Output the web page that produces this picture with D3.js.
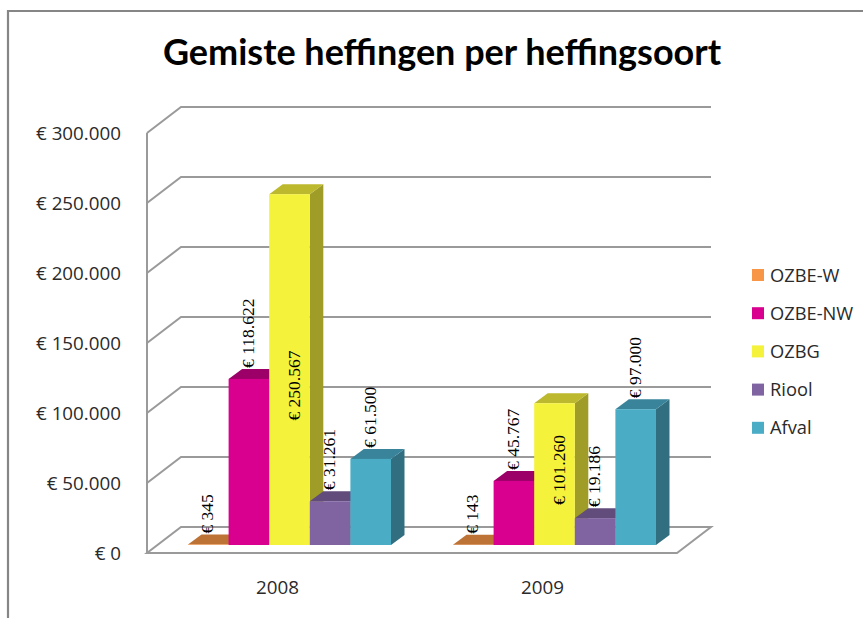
<!DOCTYPE html>
<html>
<head>
<meta charset="utf-8">
<script src="https://cdn.jsdelivr.net/npm/d3@7"></script>
<style>
  html, body { margin: 0; padding: 0; background: #fff; }
  svg { display: block; }
  text { font-family: "Open Sans", sans-serif; fill: #2a2a2a; }
</style>
</head>
<body>
<div id="chart"></div>
<script>
var width = 863,
    height = 618;

var years = ["2008", "2009"];
var seriesNames = ["OZBE-W", "OZBE-NW", "OZBG", "Riool", "Afval"];
var values2008 = [345, 118622, 250567, 31261, 61500];
var values2009 = [143, 45767, 101260, 19186, 97000];
var dataLabels2008 = ["€ 345", "€ 118.622", "€ 250.567", "€ 31.261", "€ 61.500"];
var dataLabels2009 = ["€ 143", "€ 45.767", "€ 101.260", "€ 19.186", "€ 97.000"];
var yTicks = [0, 50000, 100000, 150000, 200000, 250000, 300000];
var yTickLabels = ["€ 0", "€ 50.000", "€ 100.000", "€ 150.000", "€ 200.000", "€ 250.000", "€ 300.000"];

var colors = ["#f79646", "#d9008f", "#f5f23c", "#8064a2", "#4bacc6"];
var topColors = ["#bd7236", "#9c0068", "#bdb92e", "#614c7c", "#39849a"];
var sideColors = ["#a86530", "#85005a", "#9f9c27", "#54426c", "#306e80"];

var svg = d3.select("#chart").append("svg")
    .attr("width", width)
    .attr("height", height);

// outer frame, only top and left are inside the screenshot
svg.append("path")
    .attr("d", "M8,618V11H" + width)
    .attr("fill", "none")
    .attr("stroke", "#868686")
    .attr("stroke-width", 2.2);

svg.append("text")
    .attr("x", 442)
    .attr("y", 65)
    .attr("text-anchor", "middle")
    .style("font-family", "Lato")
    .style("font-weight", 700)
    .style("font-size", "36px")
    .style("fill", "#000")
    .text("Gemiste heffingen per heffingsoort");

// the plot is a box: front wall plane + an offset for the back wall
var wallDx = 34, wallDy = -26;
var left = 147, right = 677;

var y = d3.scaleLinear().domain([0, 300000]).range([553, 133]);
var x0 = d3.scaleBand().domain(years).range([left, right]);
var x1 = d3.scaleBand().domain(seriesNames).range([0, 203]);

var grid = svg.append("g")
    .attr("fill", "none")
    .attr("stroke", "#9a9a9a")
    .attr("stroke-width", 2);

// floor
grid.append("path")
    .attr("d", "M" + left + "," + y(0) + "H" + right + "l" + wallDx + "," + wallDy + "H" + (left + wallDx) + "Z");

// left wall edge
grid.append("path")
    .attr("d", "M" + left + "," + y(0) + "V" + y(300000));

grid.selectAll(".gridline")
    .data(yTicks.slice(1))
    .enter().append("path")
    .attr("class", "gridline")
    .attr("d", function(d) {
      return "M" + left + "," + y(d) + "l" + wallDx + "," + wallDy + "H" + (right + wallDx);
    });

svg.selectAll(".ytick")
    .data(yTicks)
    .enter().append("text")
    .attr("class", "ytick")
    .attr("x", 121)
    .attr("y", function(d) { return y(d) + 7; })
    .attr("text-anchor", "end")
    .style("font-size", "18.8px")
    .text(function(d, i) { return yTickLabels[i]; });

svg.selectAll(".xtick")
    .data(years)
    .enter().append("text")
    .attr("class", "xtick")
    .attr("x", function(d) { return x0(d) + x0.bandwidth() / 2 - 2; })
    .attr("y", 594)
    .attr("text-anchor", "middle")
    .style("font-size", "18.8px")
    .text(function(d) { return d; });

// bars stand a bit behind the front plane of the box
var barBase = 545;
var barDx = 13.5, barDy = -10;
var barShift = 41;

function barTop(v) { return barBase - (y(0) - y(v)); }

years.forEach(function(year, yi) {
  var vals = yi == 0 ? values2008 : values2009;
  var labels = yi == 0 ? dataLabels2008 : dataLabels2009;
  var g = svg.append("g")
      .attr("transform", "translate(" + (x0(year) + barShift) + ",0)");

  var bars = g.selectAll(".bar")
      .data(vals)
      .enter().append("g")
      .attr("class", "bar");

  bars.append("path")
      .attr("fill", function(d, i) { return sideColors[i]; })
      .attr("d", function(d, i) {
        var xr = x1(seriesNames[i]) + x1.bandwidth();
        return "M" + xr + "," + barTop(d) + "l" + barDx + "," + barDy + "V" + (barBase + barDy) + "l" + (-barDx) + "," + (-barDy) + "Z";
      });

  bars.append("path")
      .attr("fill", function(d, i) { return topColors[i]; })
      .attr("d", function(d, i) {
        var xl = x1(seriesNames[i]);
        return "M" + xl + "," + barTop(d) + "l" + barDx + "," + barDy + "h" + x1.bandwidth() + "l" + (-barDx) + "," + (-barDy) + "Z";
      });

  bars.append("rect")
      .attr("fill", function(d, i) { return colors[i]; })
      .attr("x", function(d, i) { return x1(seriesNames[i]); })
      .attr("y", function(d) { return barTop(d); })
      .attr("width", x1.bandwidth())
      .attr("height", function(d) { return barBase - barTop(d); });

  // data labels, OZBG sits inside the bar, the rest above it
  g.selectAll(".dlabel")
      .data(vals)
      .enter().append("text")
      .attr("class", "dlabel")
      .attr("transform", function(d, i) {
        var cx = x1(seriesNames[i]) + x1.bandwidth() / 2;
        if (i == 2) {
          var shift = yi == 0 ? 16 : -4;
          return "translate(" + (cx + 10) + "," + ((barTop(d) + barBase) / 2 + shift) + ") rotate(-90)";
        }
        return "translate(" + (cx + 5) + "," + (barTop(d) - 11) + ") rotate(-90)";
      })
      .attr("text-anchor", function(d, i) { return i == 2 ? "middle" : "start"; })
      .style("font-family", "Liberation Serif")
      .style("font-size", "17.5px")
      .style("fill", "#000")
      .text(function(d, i) { return labels[i]; });
});

// legend
var legend = svg.selectAll(".legend")
    .data(seriesNames)
    .enter().append("g")
    .attr("class", "legend")
    .attr("transform", function(d, i) { return "translate(752," + (275 + i * 38.2) + ")"; });

legend.append("rect")
    .attr("y", -6)
    .attr("width", 12)
    .attr("height", 12)
    .attr("fill", function(d, i) { return colors[i]; });

legend.append("text")
    .attr("x", 18)
    .attr("y", 6.5)
    .style("font-size", "18.3px")
    .text(function(d) { return d; });
</script>
</body>
</html>
